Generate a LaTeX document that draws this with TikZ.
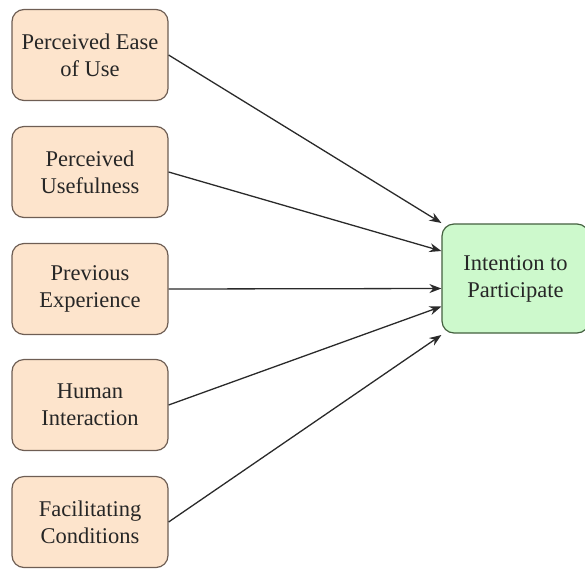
\documentclass[tikz,border=0pt]{standalone}
\usepackage{fontspec}
\newfontfamily\boxfont{Liberation Serif}
\usetikzlibrary{calc,arrows.meta}
\definecolor{peach}{HTML}{FDE4CC}
\definecolor{peachline}{HTML}{6E5E54}
\definecolor{mint}{HTML}{CDF9CC}
\definecolor{mintline}{HTML}{44603F}
\definecolor{linkgray}{HTML}{2A2A2A}
\tikzstyle{factor}=[rounded corners=12pt, minimum width=156pt, minimum height=91pt, align=center, draw=peachline, line width=1.2pt, fill=peach, text=black!85, font=\boxfont\fontsize{22.5}{27}\selectfont]
\tikzstyle{outcome}=[rounded corners=12pt, minimum width=147pt, minimum height=109pt, align=center, draw=mintline, line width=1.2pt, fill=mint, text=black!85, font=\boxfont\fontsize{22.5}{27}\selectfont]
\tikzstyle{link}=[draw=linkgray, line width=1.3pt, -{Stealth[length=12pt, width=9pt]}]

\begin{document}
\begin{tikzpicture}[x=1pt, y=-1pt]

\useasboundingbox (0, 0) rectangle (585, 568);

\node [factor] (ease) at (90, 55) {Perceived Ease\\of Use};
\node [factor] (useful) at (90, 172) {Perceived\\Usefulness};
\node [factor] (exp) at (90, 289) {Previous\\Experience};
\node [factor] (human) at (90, 405) {Human\\Interaction};
\node [factor] (cond) at (90, 522) {Facilitating\\Conditions};
\node [outcome] (intent) at (515.5, 278.5) {Intention to\\Participate};

\draw [link] (ease.east) -- ($(intent.west)+(0,-55.5)$);
\draw [link] (useful.east) -- ($(intent.west)+(0,-27.5)$);
\draw [link] (exp.east) -- ($(intent.west)+(0,10)$);
\draw [link] (human.east) -- ($(intent.west)+(0,28)$);
\draw [link] (cond.east) -- ($(intent.west)+(0,56.5)$);

\end{tikzpicture}
\end{document}
